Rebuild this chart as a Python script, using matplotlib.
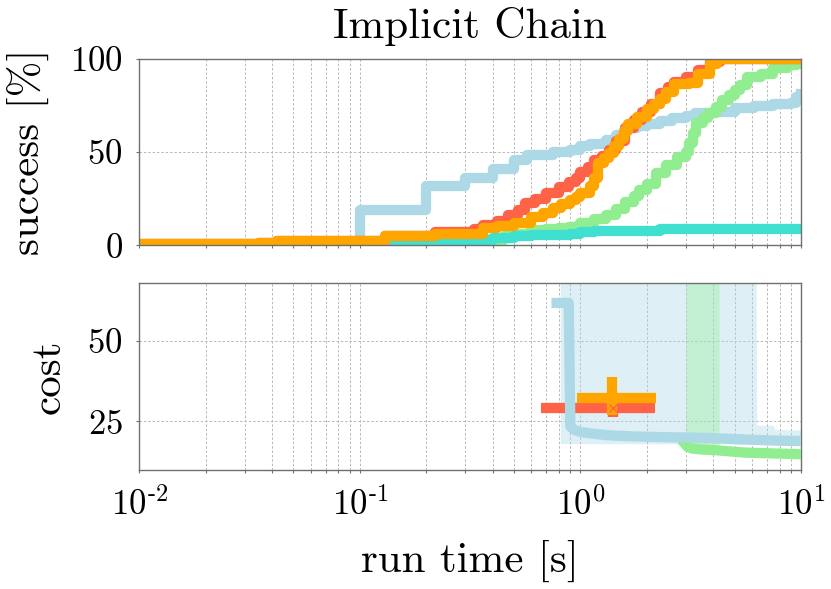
import numpy as np
import matplotlib
matplotlib.use('Agg')
import matplotlib.pyplot as plt
from matplotlib.ticker import FuncFormatter, LogLocator, NullFormatter

plt.rcParams['font.family'] = 'cmr10'
plt.rcParams['mathtext.fontset'] = 'cm'
plt.rcParams['axes.unicode_minus'] = False
plt.rcParams['axes.formatter.use_mathtext'] = True

# success curves [%] over run time [s]
t_blue = [0.01, 0.1, 0.2, 0.3, 0.4, 0.5, 0.57, 0.75, 0.9, 1.0, 1.1, 1.3, 1.45, 1.6, 1.8, 2.0,
          2.3, 2.6, 3.0, 3.3, 4.0, 5.0, 6.1, 7.5, 9.0, 9.5, 10]
s_blue = [0, 19, 32, 36, 41, 45.7, 48.4, 50, 51, 53, 54.5, 56.4, 59, 62.7, 64, 65,
          66.5, 68, 69.5, 70.7, 71.6, 73.4, 74.6, 75.7, 76.4, 79.6, 81]

t_green = [0.01, 0.3, 0.45, 0.5, 0.6, 0.7, 0.8, 0.89, 1.0, 1.15, 1.3, 1.45, 1.6, 1.75, 1.85, 2.0,
           2.2, 2.45, 2.75, 3.0, 3.1, 3.25, 3.35, 3.6, 3.8, 4.1, 4.4, 4.7, 5.0, 5.3, 5.7, 6.6,
           7.5, 8.7, 9.5, 10]
s_green = [0, 3, 5, 6.3, 8, 9, 9.5, 10, 11.8, 14, 16.2, 19.5, 23.4, 26.5, 29.6, 33,
           38.6, 43, 47.5, 50, 54.7, 60, 65.5, 68, 70.7, 74, 78, 80.5, 83, 86, 90.4, 92,
           95, 96.7, 97.2, 97.7]

t_teal = [0.137, 0.22, 0.33, 0.4, 0.5, 0.6, 0.9, 1.0, 1.15, 2.3, 10]
s_teal = [1, 2, 2.8, 3.7, 4.9, 5.4, 6.3, 7, 7.5, 9, 9]

t_red = [0.01, 0.035, 0.042, 0.13, 0.22, 0.33, 0.36, 0.42, 0.47, 0.52, 0.56, 0.62, 0.7, 0.8,
         0.89, 0.95, 1.0, 1.08, 1.15, 1.25, 1.35, 1.45, 1.6, 1.75, 1.9, 2.1, 2.3, 2.5, 2.65,
         3.0, 3.4, 3.85, 4.3, 10]
s_red = [0.5, 1.5, 2.5, 4.8, 7.3, 9, 11, 13, 16, 19, 22.5, 25, 28, 31,
         34, 36, 39.4, 42, 45.7, 48, 51, 56, 62.7, 67, 71.6, 76, 81.5, 85, 87.7,
         90.4, 94, 98, 100, 100]

t_orange = [0.01, 0.035, 0.042, 0.13, 0.22, 0.36, 0.42, 0.5, 0.6, 0.68, 0.75, 0.82, 0.9, 0.95,
            1.0, 1.1, 1.15, 1.2, 1.28, 1.35, 1.42, 1.5, 1.58, 1.65, 1.8, 2.0, 2.15, 2.3, 2.45,
            2.65, 3.1, 3.4, 3.85, 4.15, 10]
s_orange = [0.5, 1.5, 2.5, 4.8, 6, 9.1, 10.5, 12, 15.3, 17.5, 19.8, 22, 24.3, 26,
            28, 31.8, 36, 44, 47, 49.6, 53, 56.8, 61, 64.8, 69, 72.8, 75.5, 78.2, 82,
            86.2, 87, 91.6, 97, 100, 100]

# cost curves
t_cost_blue = [0.78, 0.885, 0.9, 0.93, 0.96, 1.0, 1.2, 1.4, 1.8, 2.4, 3.0, 4.0, 5.0, 6.5, 8.0, 10]
c_blue = [61.8, 61.8, 23.5, 22.6, 22.1, 21.7, 21.0, 20.6, 20.3, 20.1, 20.0, 19.8, 19.5, 19.2, 19.0, 18.9]
t_band_blue = [0.81, 6.25, 6.3, 7.5, 7.6, 10]
lo_blue = [18.1, 18.0, 18.0, 17.8, 17.8, 17.5]
hi_blue = [75, 75, 23.8, 23.8, 22.5, 22.3]

t_cost_green = [2.97, 3.05, 3.2, 3.5, 4.0, 5.6, 10]
c_green = [18.1, 17.2, 16.6, 16.3, 16.1, 15.3, 14.8]
t_band_green = [3.0, 3.2, 3.5, 4.0, 4.25]
lo_green = [17.2, 16.6, 16.3, 16.1, 16.0]
hi_green = [75, 75, 75, 75, 75]

# final cost: median with quartiles (time, cost)
red_t, red_tlo, red_thi = 1.41, 0.66, 2.17
red_c, red_clo, red_chi = 29.1, 26.4, 31.8
org_t, org_tlo, org_thi = 1.39, 0.96, 2.2
org_c, org_clo, org_chi = 32.3, 26.9, 38.9

LW = 7.4
c_lb, c_gr, c_tq, c_rd, c_or = 'lightblue', 'lightgreen', 'turquoise', 'tomato', 'orange'

fig = plt.figure(figsize=(8.31, 5.89), dpi=100)
ax1 = fig.add_axes([0.1676, 0.5835, 0.7963, 0.3168])
ax2 = fig.add_axes([0.1676, 0.2012, 0.7963, 0.3178], sharex=ax1)

for t, s, c in [(t_blue, s_blue, c_lb), (t_green, s_green, c_gr), (t_teal, s_teal, c_tq),
                (t_red, s_red, c_rd), (t_orange, s_orange, c_or)]:
    ax1.plot(t, s, color=c, lw=LW, drawstyle='steps-post', solid_joinstyle='round')

ax2.fill_between(t_band_blue, lo_blue, hi_blue, color=c_lb, alpha=0.4, lw=0, zorder=1)
ax2.fill_between(t_band_green, lo_green, hi_green, color=c_gr, alpha=0.35, lw=0, zorder=1)
ax2.errorbar([red_t], [red_c], xerr=[[red_t - red_tlo], [red_thi - red_t]],
             yerr=[[red_c - red_clo], [red_chi - red_c]], fmt='none', ecolor=c_rd,
             elinewidth=LW, capsize=0, zorder=2)
ax2.errorbar([org_t], [org_c], xerr=[[org_t - org_tlo], [org_thi - org_t]],
             yerr=[[org_c - org_clo], [org_chi - org_c]], fmt='none', ecolor=c_or,
             elinewidth=LW, capsize=0, zorder=2.1)
ax2.plot([red_t], [red_c], 'x', color=c_rd, ms=6, mew=1, zorder=2.2)
ax2.plot(t_cost_green, c_green, color=c_gr, lw=LW, solid_joinstyle='round', zorder=3)
ax2.plot(t_cost_blue, c_blue, color=c_lb, lw=LW, solid_joinstyle='round', zorder=3.1)


def log_fmt(x, pos):
    e = int(round(np.log10(x)))
    if e < 0:
        return r'$10^{\text{-}%d}$' % (-e)
    return r'$10^{%d}$' % e


for ax in (ax1, ax2):
    ax.set_xscale('log')
    ax.set_xlim(1e-2, 1e1)
    ax.xaxis.set_major_locator(LogLocator(base=10))
    ax.xaxis.set_minor_locator(LogLocator(base=10, subs=np.arange(2, 10)))
    ax.xaxis.set_minor_formatter(NullFormatter())
    ax.grid(True, which='major', color='#b8b8b8', ls=(0, (2.5, 2)), lw=0.7)
    ax.grid(True, which='minor', axis='x', color='#b8b8b8', ls=(0, (2.5, 2)), lw=0.7)
    ax.set_axisbelow(True)
    for sp in ax.spines.values():
        sp.set_color('#707070')
        sp.set_linewidth(1.0)
    ax.tick_params(which='both', direction='out', length=2.5, width=0.8, color='#707070',
                   pad=9.5, labelsize=25)

ax1.set_ylim(0, 100)
ax1.set_yticks([0, 50, 100])
ax1.tick_params(axis='x', which='both', labelbottom=False)
ax1.set_ylabel('success [%]', fontsize=31, labelpad=15)
ax1.set_title('Implicit Chain', fontsize=31, pad=15)

ax2.set_ylim(9.75, 67.9)
ax2.set_yticks([25, 50])
ax2.xaxis.set_major_formatter(FuncFormatter(log_fmt))
ax2.set_ylabel('cost', fontsize=31, labelpad=14)
ax2.set_xlabel('run time [s]', fontsize=31, labelpad=13)

fig.savefig('out.png', dpi=100)
